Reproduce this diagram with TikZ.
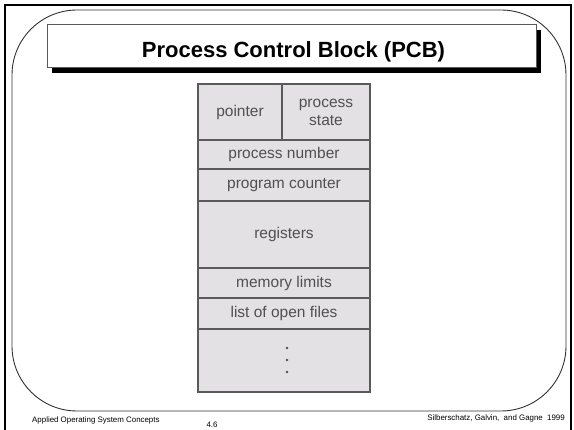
\documentclass[tikz,border=0pt]{standalone}
\usepackage{fontspec}
\setmainfont{Liberation Sans}
\definecolor{cellfill}{HTML}{E4E1E4}
\definecolor{cellline}{HTML}{5A5A5A}
\definecolor{celltext}{HTML}{505050}
\definecolor{framegray}{HTML}{333333}
\tikzset{
  cell/.style={draw=cellline, line width=1.2pt, fill=cellfill, text=celltext,
    font=\fontsize{15.5}{18}\selectfont, inner sep=0pt, align=center},
  foot/.style={font=\fontsize{7.9}{9}\selectfont, inner sep=0pt},
  dotmark/.style={fill=celltext}
}
\begin{document}
\begin{tikzpicture}[x=1pt,y=-1pt]
\useasboundingbox (0,0) rectangle (574,430);
\fill[white] (0,0) rectangle (574,430);
% outer border
\draw[line width=2pt] (5,432) -- (5,5) -- (571,5) -- (571,432);
% rounded frame
\draw[framegray, line width=0.9pt, rounded corners=65pt] (12,10) rectangle (566,411);
% title box with shadow
\fill[black] (52,30) rectangle (541,73);
\node[draw=gray!70!black, line width=1pt, fill=white, minimum width=489pt, minimum height=43pt,
  inner sep=0pt] (title) at (291.5,46.5) {};
\node[anchor=base, inner sep=0pt, font=\fontsize{22}{24}\selectfont\bfseries] (titletext)
  at (293.5,57.5) {Process Control Block (PCB)};
% PCB table
\node[cell, minimum width=84pt, minimum height=56pt] (ptr) at (240,112) {pointer};
\node[cell, minimum width=88pt, minimum height=56pt] (state) at (326,112) {process\\state};
\node[cell, minimum width=172pt, minimum height=29pt] (pnum) at (284,154.5) {process number};
\node[cell, minimum width=172pt, minimum height=32pt] (pc) at (284,185) {program counter};
\node[cell, minimum width=172pt, minimum height=67pt] (reg) at (284,234.5) {registers};
\node[cell, minimum width=172pt, minimum height=30pt] (mem) at (284,283) {memory limits};
\node[cell, minimum width=172pt, minimum height=31pt] (files) at (284,313.5) {list of open files};
\node[cell, minimum width=172pt, minimum height=63pt] (more) at (284,360.5) {};
\fill[dotmark] (287,348) circle (1.3);
\fill[dotmark] (287,360) circle (1.3);
\fill[dotmark] (287,372) circle (1.3);
% footer
\node[foot, anchor=west] (fl) at (32,420) {Applied Operating System Concepts};
\node[foot] (fc) at (212,425) {4.6};
\node[foot, anchor=east] (fr) at (565,418) {Silberschatz, Galvin,\ \ and Gagne\ \ 1999};
\end{tikzpicture}
\end{document}
